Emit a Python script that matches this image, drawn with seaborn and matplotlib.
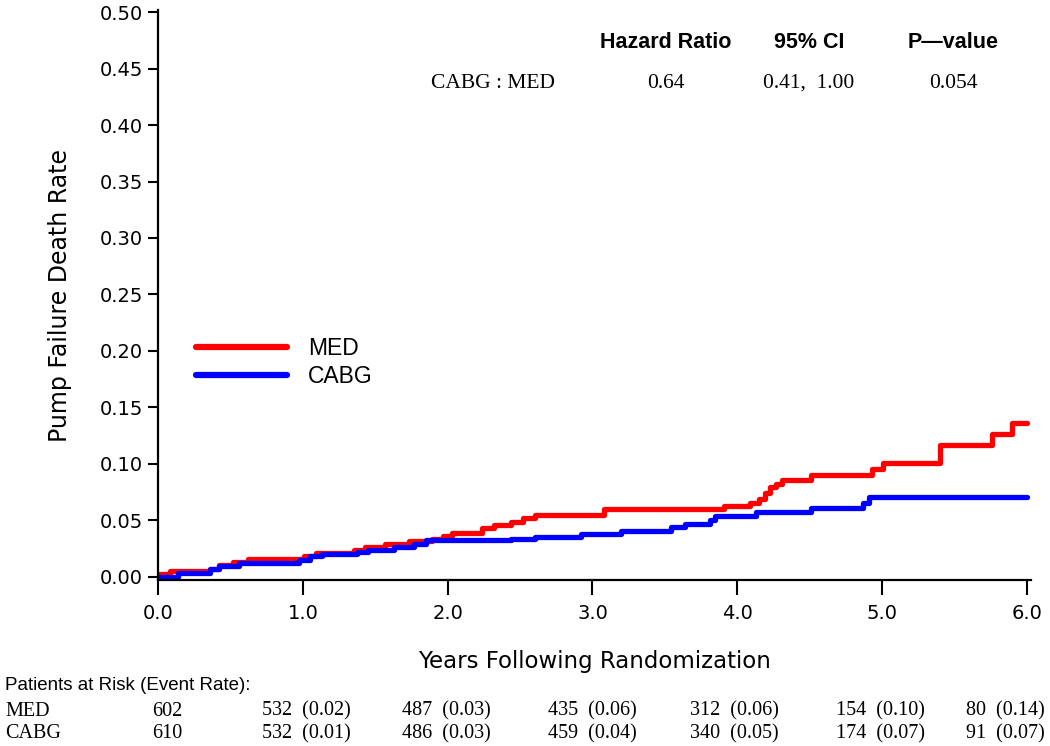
import numpy as np
import pandas as pd
import matplotlib
matplotlib.use("Agg")
import matplotlib.pyplot as plt
import seaborn as sns

# ---- data ----
med_time = [0, 0.08, 0.36, 0.42, 0.52, 0.62, 1.01, 1.09, 1.35, 1.43, 1.57, 1.73, 1.89, 1.97,
            2.03, 2.24, 2.32, 2.44, 2.52, 2.60, 3.08, 3.91, 4.09, 4.15, 4.19, 4.23, 4.27, 4.31,
            4.51, 4.93, 5.01, 5.40, 5.76, 5.90, 6.00]
med_rate = [0.002, 0.005, 0.007, 0.010, 0.013, 0.0156, 0.0185, 0.0206, 0.0235, 0.026, 0.029,
            0.0315, 0.033, 0.036, 0.039, 0.043, 0.046, 0.0485, 0.052, 0.0545, 0.0597, 0.0624,
            0.0656, 0.069, 0.074, 0.079, 0.082, 0.086, 0.090, 0.0956, 0.101, 0.117, 0.126,
            0.136, 0.136]
cabg_time = [0, 0.14, 0.36, 0.42, 0.56, 0.97, 1.05, 1.13, 1.37, 1.45, 1.63, 1.77, 1.85, 2.44,
             2.60, 2.92, 3.20, 3.54, 3.64, 3.81, 3.85, 4.13, 4.51, 4.87, 4.91, 6.00]
cabg_rate = [0.000, 0.0035, 0.0065, 0.009, 0.012, 0.015, 0.018, 0.020, 0.022, 0.0235, 0.026,
             0.029, 0.032, 0.033, 0.035, 0.0376, 0.040, 0.044, 0.0465, 0.0506, 0.054, 0.057,
             0.0606, 0.065, 0.0706, 0.0706]

groups = ["MED", "CABG"]
colors = {"MED": "#ff0000", "CABG": "#0000ff"}

x_ticks = [0.0, 1.0, 2.0, 3.0, 4.0, 5.0, 6.0]
y_ticks = [0.00, 0.05, 0.10, 0.15, 0.20, 0.25, 0.30, 0.35, 0.40, 0.45, 0.50]

hr_headers = ["Hazard Ratio", "95% CI", "P\u2014value"]
hr_row_label = "CABG : MED"
hr_values = ["0.64", "0.41,  1.00", "0.054"]

risk_title = "Patients at Risk (Event Rate):"
risk_med = ["602", "532  (0.02)", "487  (0.03)", "435  (0.06)", "312  (0.06)", "154  (0.10)", "80  (0.14)"]
risk_cabg = ["610", "532  (0.01)", "486  (0.03)", "459  (0.04)", "340  (0.05)", "174  (0.07)", "91  (0.07)"]

# ---- build long table ----
df = pd.concat([
    pd.DataFrame({"Years": med_time, "Rate": med_rate, "Group": "MED"}),
    pd.DataFrame({"Years": cabg_time, "Rate": cabg_rate, "Group": "CABG"}),
], ignore_index=True)

sns.set_style("ticks")
plt.rcParams["font.family"] = ["DejaVu Sans"]
for k in ["text.color", "axes.labelcolor", "xtick.color", "ytick.color", "axes.edgecolor"]:
    plt.rcParams[k] = "black"

W, H = 1050, 746
fig = plt.figure(figsize=(W / 100, H / 100), dpi=100)
ax = fig.add_axes([157.5 / W, 1 - 580 / H, (1031 - 157.5) / W, (580 - 10) / H])

sns.lineplot(data=df, x="Years", y="Rate", hue="Group", hue_order=groups, palette=colors,
             estimator=None, sort=False, drawstyle="steps-post", linewidth=3.8, ax=ax,
             legend=True)

ax.set_xlim(-0.005, 6.03)
ax.set_ylim(-0.003, 0.502)
ax.set_xticks(x_ticks)
ax.set_xticklabels([f"{v:.1f}" for v in x_ticks])
ax.set_yticks(y_ticks)
ax.set_yticklabels([f"{v:.2f}" for v in y_ticks])
ax.tick_params(axis="both", labelsize=14, width=1.5, length=7, colors="black", direction="out")
ax.tick_params(axis="x", length=11, pad=6)
for s in ["top", "right"]:
    ax.spines[s].set_visible(False)
for s in ["left", "bottom"]:
    ax.spines[s].set_linewidth(1.6)
    ax.spines[s].set_color("black")

ax.set_xlabel("Years Following Randomization", fontsize=16.5, labelpad=20)
ax.set_ylabel("Pump Failure Death Rate", fontsize=17, labelpad=20)

leg = ax.legend(loc="upper left", bbox_to_anchor=(0.02, 0.462), frameon=False,
                handlelength=4.0, handletextpad=0.9, labelspacing=0.2,
                prop={"family": "Liberation Sans", "size": 16.5})
for line in leg.get_lines():
    line.set_linewidth(4.5)

# ---- hazard ratio block ----
hr_x = [666, 809, 953]
for x, t in zip(hr_x, hr_headers):
    fig.text(x / W, 1 - 43 / H, t, ha="center", va="center", fontsize=15.5,
             fontweight="bold", family="Liberation Sans")
fig.text(493 / W, 1 - 83 / H, hr_row_label, ha="center", va="center", fontsize=15.5,
         family="Liberation Serif")
for x, t in zip(hr_x, hr_values):
    fig.text(x / W, 1 - 83 / H, t, ha="center", va="center", fontsize=15.5,
             family="Liberation Serif")

# ---- risk table ----
fig.text(5 / W, 1 - 685 / H, risk_title, ha="left", va="center", fontsize=13.5,
         family=["Liberation Sans Narrow", "Liberation Sans"])
col_left = [152, 262, 402, 548, 690, 836, 966]
for label, row, y in [("MED", risk_med, 711), ("CABG", risk_cabg, 734)]:
    fig.text(5 / W, 1 - y / H, label, ha="left", va="center", fontsize=14.5,
             family="Liberation Serif")
    for x, t in zip(col_left, row):
        fig.text(x / W, 1 - y / H, t, ha="left", va="center", fontsize=14.5,
                 family="Liberation Serif")

fig.savefig("out.png", dpi=100)
